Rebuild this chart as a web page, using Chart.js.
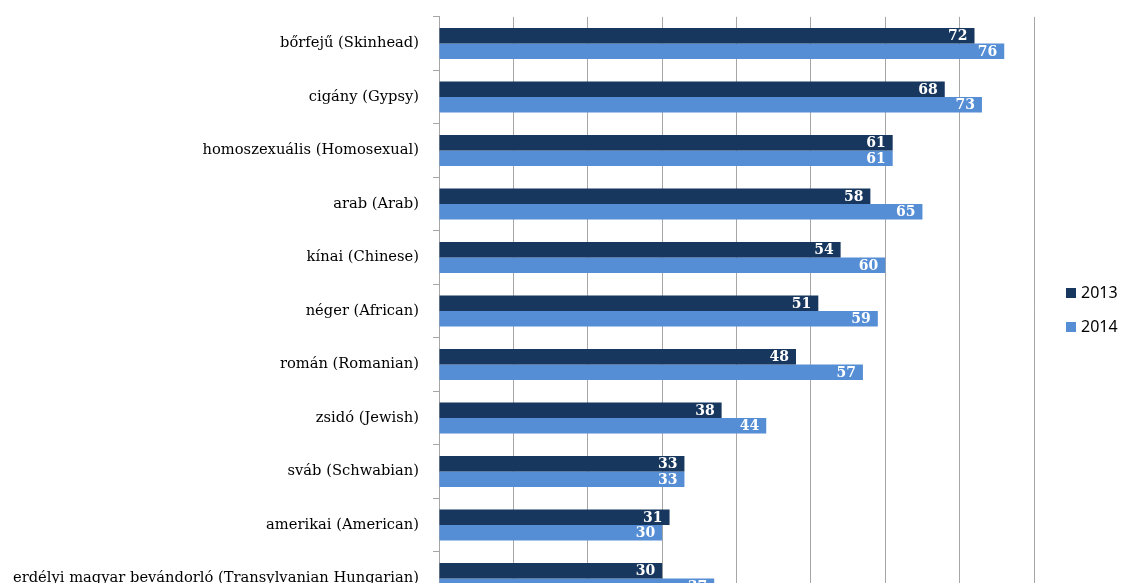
<!DOCTYPE html>
<html>
<head>
<meta charset="utf-8">
<style>
  body { margin: 0; background: #fff; }
  #wrap { width: 1125px; height: 583px; overflow: hidden; }
  #box { width: 1125px; height: 634px; position: relative; margin-top: -6px; }
</style>
</head>
<body>
<div id="wrap"><div id="box"><canvas id="prejudiceChart"></canvas></div></div>
<script src="https://cdn.jsdelivr.net/npm/chart.js"></script>
<script>
// groups and the share of rejection, per year
var groups = [
  'bőrfejű (Skinhead)',
  'cigány (Gypsy)',
  'homoszexuális (Homosexual)',
  'arab (Arab)',
  'kínai (Chinese)',
  'néger (African)',
  'román (Romanian)',
  'zsidó (Jewish)',
  'sváb (Schwabian)',
  'amerikai (American)',
  'erdélyi magyar bevándorló (Transylvanian Hungarian)'
];
var values2013 = [72, 68, 61, 58, 54, 51, 48, 38, 33, 31, 30];
var values2014 = [76, 73, 61, 65, 60, 59, 57, 44, 33, 30, 37];
var xTicks = [0, 10, 20, 30, 40, 50, 60, 70, 80];

var gridColor = '#a6a6a6';

// white value labels at the end of each bar
var barLabels = {
  id: 'barLabels',
  afterDatasetsDraw: function(chart) {
    var ctx = chart.ctx;
    ctx.save();
    ctx.fillStyle = '#fff';
    ctx.font = 'bold 14px "DejaVu Serif"';
    ctx.textAlign = 'right';
    ctx.textBaseline = 'middle';
    chart.data.datasets.forEach(function(ds, i) {
      chart.getDatasetMeta(i).data.forEach(function(bar, j) {
        ctx.fillText(ds.data[j], bar.x - 7, bar.y + 1);
      });
    });
    ctx.restore();
  }
};

// legend drawn to the right of the plot
var sideLegend = {
  id: 'sideLegend',
  afterDraw: function(chart) {
    var ctx = chart.ctx;
    var x0 = chart.chartArea.right + 32;
    ctx.save();
    ctx.font = '16px "Noto Sans"';
    ctx.textBaseline = 'middle';
    ctx.textAlign = 'left';
    chart.data.datasets.forEach(function(ds, i) {
      var y = 299 + i * 34;
      ctx.fillStyle = ds.backgroundColor;
      ctx.fillRect(x0, y - 5, 10, 10);
      ctx.fillStyle = '#000';
      ctx.fillText(ds.label, x0 + 15, y);
    });
    ctx.restore();
  }
};

var ctx = document.getElementById('prejudiceChart').getContext('2d');
new Chart(ctx, {
  type: 'bar',
  data: {
    labels: groups,
    datasets: [{
      label: '2013',
      data: values2013,
      backgroundColor: '#17375e',
      categoryPercentage: 0.58,
      barPercentage: 1
    }, {
      label: '2014',
      data: values2014,
      backgroundColor: '#558ed5',
      categoryPercentage: 0.58,
      barPercentage: 1
    }]
  },
  options: {
    indexAxis: 'y',
    responsive: true,
    maintainAspectRatio: false,
    animation: false,
    layout: { padding: { top: 6, bottom: 19, right: 91, left: 0 } },
    plugins: {
      legend: { display: false },
      tooltip: { enabled: false }
    },
    scales: {
      x: {
        min: 0,
        max: 80,
        afterBuildTicks: function(scale) {
          scale.ticks = xTicks.map(function(v) { return { value: v }; });
        },
        ticks: { display: false },
        grid: { color: gridColor, lineWidth: 1, drawTicks: false },
        border: { display: false }
      },
      y: {
        afterFit: function(scale) { scale.width = 439; },
        ticks: {
          color: '#000',
          padding: 14,
          font: { family: '"DejaVu Serif"', size: 14.7 }
        },
        grid: {
          offset: true,
          drawOnChartArea: false,
          color: gridColor,
          tickLength: 6
        },
        border: { color: gridColor, width: 1 }
      }
    }
  },
  plugins: [barLabels, sideLegend]
});
</script>
</body>
</html>
